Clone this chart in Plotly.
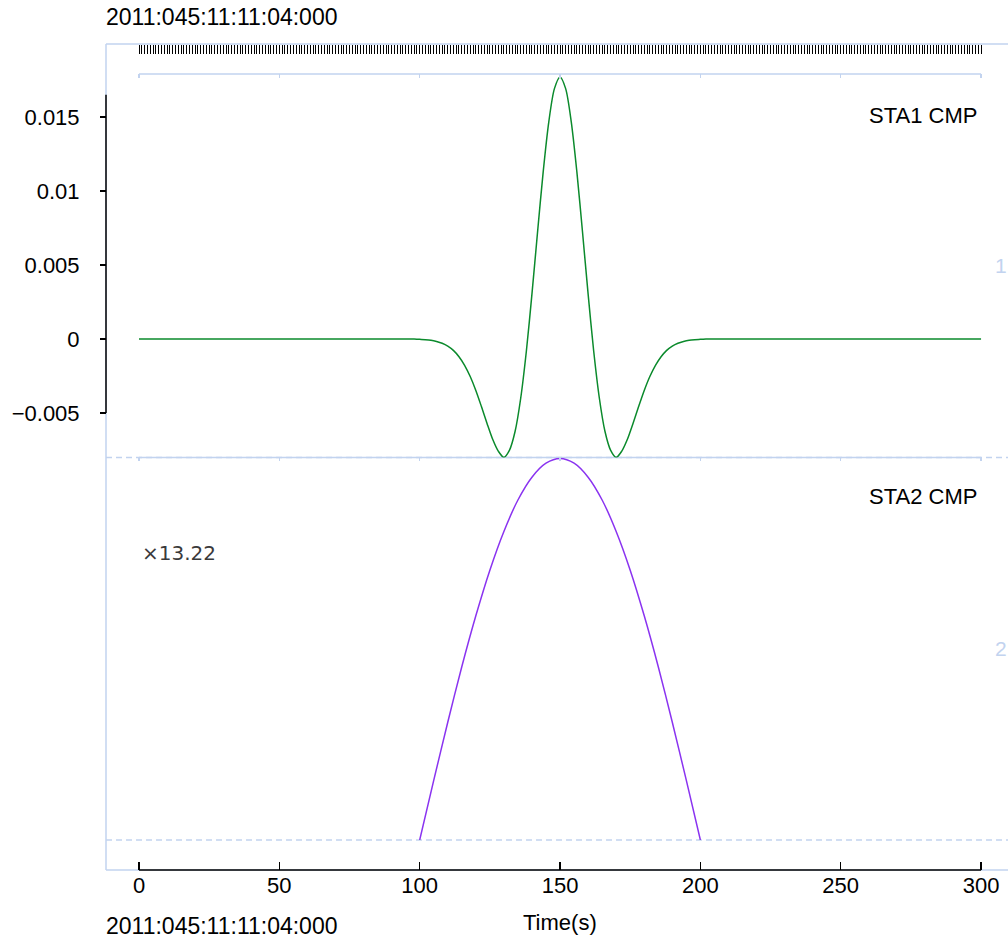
import plotly.graph_objects as go

# ---------------- data ----------------
time_sta1 = [0, 94, 96, 98, 100, 102, 104, 106, 108, 110, 112, 114, 116, 118, 120,
             122, 124, 126, 128, 130, 132, 134, 136, 138, 140, 142, 144, 146, 148,
             150, 152, 154, 156, 158, 160, 162, 164, 166, 168, 170, 172, 174, 176,
             178, 180, 182, 184, 186, 188, 190, 192, 194, 196, 198, 200, 202, 204,
             206, 300]
sta1_values = [0.0, 0.0, 0.0, -0.00001, -0.00003, -0.00005, -0.00009, -0.00017,
               -0.00029, -0.00048, -0.00077, -0.00120, -0.00178, -0.00254, -0.00348,
               -0.00457, -0.00571, -0.00678, -0.00758, -0.00800, -0.00751, -0.00624,
               -0.00399, -0.00083, 0.00304, 0.00724, 0.01129, 0.01467, 0.01691,
               0.01770,
               0.01691, 0.01467, 0.01129, 0.00724, 0.00304, -0.00083, -0.00399,
               -0.00624, -0.00751, -0.00800, -0.00758, -0.00678, -0.00571, -0.00457,
               -0.00348, -0.00254, -0.00178, -0.00120, -0.00077, -0.00048, -0.00029,
               -0.00017, -0.00009, -0.00005, -0.00003, -0.00001, 0.0, 0.0, 0.0]

time_sta2 = [100, 105, 110, 115, 120, 125, 130, 135, 140, 145, 150,
             155, 160, 165, 170, 175, 180, 185, 190, 195, 200]
sta2_values = [0.0, 0.000303, 0.000599, 0.000881, 0.001140, 0.001372, 0.001569,
               0.001729, 0.001845, 0.001916, 0.001940, 0.001916, 0.001845,
               0.001729, 0.001569, 0.001372, 0.001140, 0.000881, 0.000599,
               0.000303, 0.0]

y_tickvals = [-0.005, 0, 0.005, 0.01, 0.015]
y_ticktext = ["\u22120.005", "0", "0.005", "0.01", "0.015"]
x_tickvals = [0, 50, 100, 150, 200, 250, 300]
fine_tickvals = list(range(0, 301))
start_label = "2011:045:11:11:04:000"
scale_label = "\u00d713.22"
station_labels = ["STA1 CMP", "STA2 CMP"]
trace_numbers = ["1", "2"]
x_title = "Time(s)"

# ---------------- styling ----------------
FONT = "Liberation Sans, Arial, sans-serif"
BLUE = "#c2d3ef"
GREEN = "#0b8a2c"
PURPLE = "#8a33f0"
XR = [-11.76, 309.6]
Y1R = [-0.00801, 0.0179]
Y2R = [0.0, 0.001945]
D1 = [0.4994, 0.9637]
D2 = [0.0363, 0.4994]

fig = go.Figure()
fig.add_trace(go.Scatter(x=time_sta1, y=sta1_values, xaxis="x", yaxis="y",
                         mode="lines", showlegend=False, hoverinfo="skip",
                         line=dict(color=GREEN, width=1.5, shape="spline", smoothing=0.8)))
fig.add_trace(go.Scatter(x=time_sta2, y=sta2_values, xaxis="x", yaxis="y2",
                         mode="lines", showlegend=False, hoverinfo="skip",
                         line=dict(color=PURPLE, width=1.5, shape="spline", smoothing=0.8)))
# empty traces so the decorative overlay axes are created
for ax, yax in (("x2", "y"), ("x3", "y"), ("x4", "y2")):
    fig.add_trace(go.Scatter(x=[], y=[], xaxis=ax, yaxis=yax, showlegend=False,
                             hoverinfo="skip"))

common_x = dict(range=XR, showgrid=False, zeroline=False, showline=False,
                tickmode="array", fixedrange=True)

shapes = [
    # outer frame (light blue)
    dict(type="line", xref="paper", yref="paper", x0=0, x1=1, y0=1, y1=1,
         line=dict(color=BLUE, width=1.5), layer="below"),
    dict(type="line", xref="paper", yref="paper", x0=0, x1=0, y0=0, y1=1,
         line=dict(color=BLUE, width=1.5), layer="below"),
    dict(type="line", xref="paper", yref="paper", x0=0, x1=1, y0=0, y1=0,
         line=dict(color=BLUE, width=1.5), layer="below"),
    # black time axis over data span
    dict(type="line", xref="x", yref="paper", x0=0, x1=300, y0=0, y1=0,
         line=dict(color="black", width=1.5)),
    # top of panel 1
    dict(type="line", xref="x", yref="y domain", x0=0, x1=300, y0=1, y1=1,
         line=dict(color=BLUE, width=1.5), layer="below"),
    # separator between panels
    dict(type="line", xref="paper", yref="y domain", x0=0, x1=1, y0=0, y1=0,
         line=dict(color=BLUE, width=1.5, dash="6px,4px"), layer="below"),
    dict(type="line", xref="x", yref="y domain", x0=0, x1=300, y0=0, y1=0,
         line=dict(color=BLUE, width=1.5), layer="below"),
    # bottom of panel 2
    dict(type="line", xref="paper", yref="y2 domain", x0=0, x1=1, y0=0, y1=0,
         line=dict(color=BLUE, width=1.5, dash="6px,4px"), layer="below"),
    # black amplitude axis line
    dict(type="line", xref="paper", yref="y", x0=0, x1=0, y0=-0.005, y1=0.0165,
         line=dict(color="black", width=1.5)),
]

annotations = [
    dict(text=start_label, xref="paper", yref="paper", x=-0.002, y=1.0327,
         xanchor="left", yanchor="middle", showarrow=False,
         font=dict(family=FONT, size=23, color="black")),
    dict(text=start_label, xref="paper", yref="paper", x=-0.002, y=-0.0678,
         xanchor="left", yanchor="middle", showarrow=False,
         font=dict(family=FONT, size=23, color="black")),
    dict(text=x_title, xref="x", yref="paper", x=150, y=-0.063,
         xanchor="center", yanchor="middle", showarrow=False,
         font=dict(family=FONT, size=22, color="black")),
    dict(text=station_labels[0], xref="paper", yref="paper", x=0.9678, y=0.9140,
         xanchor="right", yanchor="middle", showarrow=False,
         font=dict(family=FONT, size=22, color="black")),
    dict(text=station_labels[1], xref="paper", yref="paper", x=0.9678, y=0.4516,
         xanchor="right", yanchor="middle", showarrow=False,
         font=dict(family=FONT, size=22, color="black")),
    dict(text=scale_label, xref="paper", yref="paper", x=0.0377, y=0.3838,
         xanchor="left", yanchor="middle", showarrow=False,
         font=dict(family="DejaVu Sans, sans-serif", size=20, color="#3a3a3a")),
    dict(text=trace_numbers[0], xref="paper", yref="paper", x=0.9830, y=0.7315,
         xanchor="left", yanchor="middle", showarrow=False,
         font=dict(family=FONT, size=21, color=BLUE)),
    dict(text=trace_numbers[1], xref="paper", yref="paper", x=0.9830, y=0.2679,
         xanchor="left", yanchor="middle", showarrow=False,
         font=dict(family=FONT, size=21, color=BLUE)),
]

fig.update_layout(
    width=1008, height=940,
    margin=dict(l=106, r=0, t=44, b=70, pad=0),
    paper_bgcolor="white", plot_bgcolor="white",
    font=dict(family=FONT, size=22, color="black"),
    showlegend=False,
    xaxis=dict(**common_x, domain=[0, 1], anchor="free", position=0,
               tickvals=x_tickvals, ticks="inside", ticklen=8, tickwidth=1.5,
               tickcolor="black", tickfont=dict(family=FONT, size=22, color="black")),
    xaxis2=dict(**common_x, overlaying="x", anchor="free", position=1, side="top",
                tickvals=fine_tickvals, ticks="inside", ticklen=9, tickwidth=1,
                tickcolor="black", showticklabels=False),
    xaxis3=dict(**common_x, overlaying="x", anchor="y", side="top",
                tickvals=x_tickvals, ticks="inside", ticklen=4, tickwidth=1.5,
                tickcolor=BLUE, showticklabels=False),
    xaxis4=dict(**common_x, overlaying="x", anchor="y2", side="top",
                tickvals=x_tickvals, ticks="inside", ticklen=4, tickwidth=1.5,
                tickcolor=BLUE, showticklabels=False),
    yaxis=dict(domain=D1, range=Y1R, anchor="free", position=0,
               showgrid=False, zeroline=False, showline=False,
               tickmode="array", tickvals=y_tickvals, ticktext=y_ticktext,
               ticks="outside", ticklen=6, tickwidth=1.5, tickcolor="black",
               ticklabelstandoff=16,
               tickfont=dict(family=FONT, size=22, color="black"), fixedrange=True),
    yaxis2=dict(domain=D2, range=Y2R, anchor="free", position=0,
                showgrid=False, zeroline=False, showline=False,
                showticklabels=False, ticks="", fixedrange=True),
    shapes=shapes,
    annotations=annotations,
)

fig.write_html(
    "out.html",
    config={"displayModeBar": False, "staticPlot": True},
    post_script="document.body.style.margin='0';document.body.style.overflow='hidden';",
)
